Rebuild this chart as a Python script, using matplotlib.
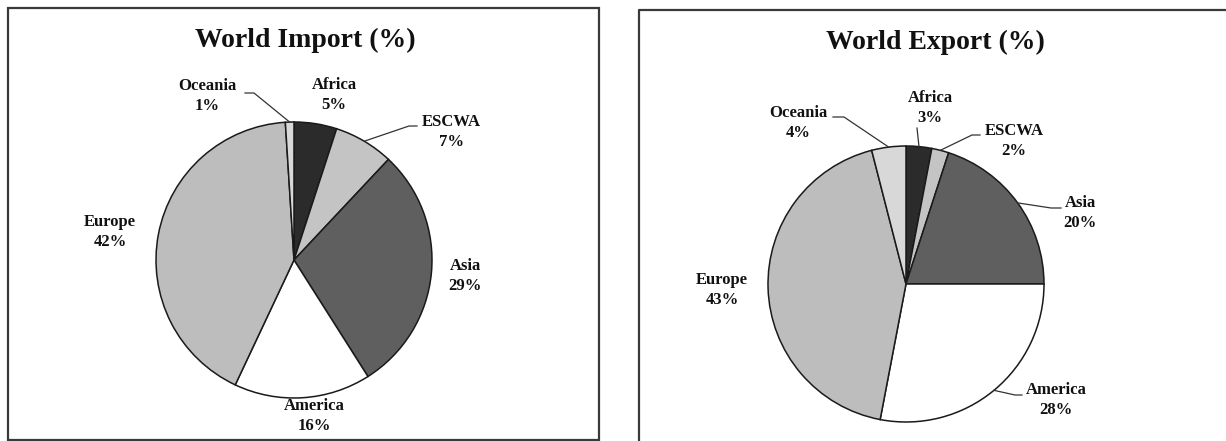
import numpy as np
import matplotlib.pyplot as plt
from matplotlib.patches import Rectangle

# Regional shares of world trade, clockwise from 12 o'clock
regions = ['Africa', 'ESCWA', 'Asia', 'America', 'Europe', 'Oceania']
import_share = [5, 7, 29, 16, 42, 1]
export_share = [3, 2, 20, 28, 43, 4]
colors = ['#2b2b2b', '#c4c4c4', '#5f5f5f', '#ffffff', '#bdbdbd', '#d8d8d8']

W, H = 1226, 441
fig = plt.figure(figsize=(W / 100, H / 100), dpi=100)
ax = fig.add_axes([0, 0, 1, 1])
ax.set_xlim(0, W)
ax.set_ylim(0, H)
ax.set_aspect('equal')
ax.axis('off')

serif = ['Liberation Serif', 'DejaVu Serif']


def yy(y):
    # layout is measured from the top edge
    return H - y


def rim_point(cx, cy, r, values, i):
    # point on the rim at the middle of wedge i (clockwise from top)
    frac = (sum(values[:i]) + values[i] / 2) / sum(values)
    ang = np.deg2rad(90 - 360 * frac)
    return cx + r * np.cos(ang), yy(cy) + r * np.sin(ang)


def draw_panel(values, title, center, radius, title_xy, label_xy, leaders):
    cx, cy = center
    ax.pie(values, colors=colors, startangle=90, counterclock=False,
           center=(cx, yy(cy)), radius=radius,
           wedgeprops=dict(edgecolor='#1a1a1a', linewidth=1.1))
    ax.text(title_xy[0], yy(title_xy[1]), title, ha='center', va='center',
            fontsize=20, fontweight='bold', family=serif, color='#111111')
    for i, name in enumerate(regions):
        lx, ly = label_xy[i]
        ax.text(lx, yy(ly), f'{name}\n{values[i]}%', ha='center', va='center',
                fontsize=12, fontweight='bold', family=serif,
                linespacing=1.4, color='#111111')
        if name in leaders:
            (ax0, ay0), ex = leaders[name]
            px, py = rim_point(cx, cy, radius, values, i)
            ax.plot([ax0, ex, px], [yy(ay0), yy(ay0), py],
                    color='#333333', linewidth=0.9)


# World import
ax.add_patch(Rectangle((8, yy(440)), 591, 432, fill=False,
                       edgecolor='#3a3a3a', linewidth=1.6))
draw_panel(import_share, 'World Import (%)', (294, 260), 138, (305, 40),
           [(334, 95), (451, 132), (465, 276), (314, 416), (110, 232), (207, 96)],
           {'Oceania': ((245, 93), 254), 'ESCWA': ((417, 126), 409)})

# World export
ax.plot([639, 639, W + 5], [yy(H + 5), yy(10), yy(10)],
        color='#3a3a3a', linewidth=1.6)
draw_panel(export_share, 'World Export (%)', (906, 284), 138, (935, 42),
           [(930, 108), (1014, 141), (1080, 213), (1056, 400), (722, 290), (798, 123)],
           {'Oceania': ((833, 117), 844), 'Africa': ((917, 128), 917),
            'ESCWA': ((980, 135), 972), 'Asia': ((1061, 208), 1051),
            'America': ((1022, 395), 1015)})

ax.set_xlim(0, W)
ax.set_ylim(0, H)
fig.savefig('out.png', dpi=100)
